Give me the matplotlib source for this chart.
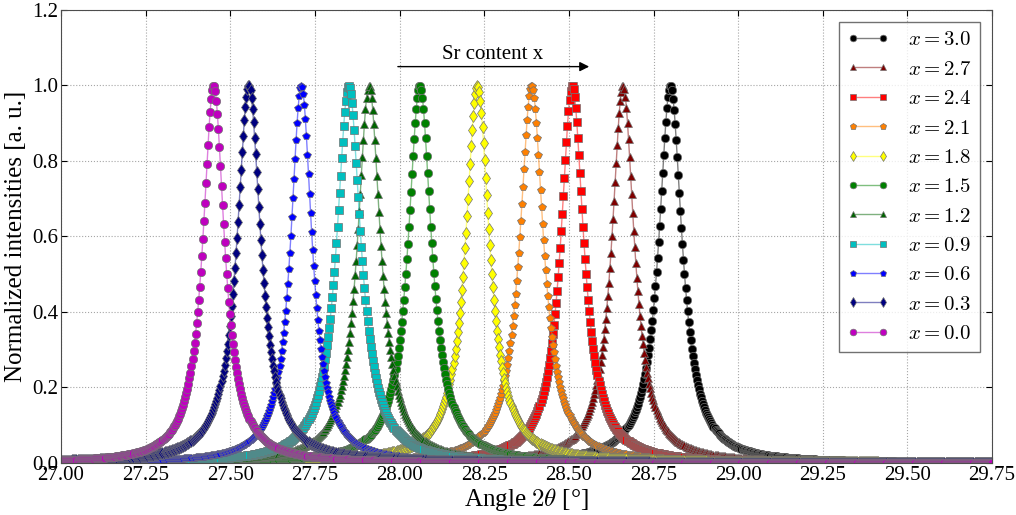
import numpy as np
import matplotlib
matplotlib.use("Agg")
import matplotlib.pyplot as plt
from matplotlib.colors import to_rgba

plt.rcParams['font.family'] = ['Liberation Serif', 'DejaVu Serif']
plt.rcParams['mathtext.fontset'] = 'cm'

# Sr content and fitted peak parameters
sr_content = [3.0, 2.7, 2.4, 2.1, 1.8, 1.5, 1.2, 0.9, 0.6, 0.3, 0.0]
peak_center = [28.80, 28.66, 28.51, 28.39, 28.23, 28.06, 27.91, 27.85, 27.71, 27.555, 27.451]
peak_fwhm = [0.083, 0.080, 0.082, 0.085, 0.085, 0.083, 0.082, 0.086, 0.076, 0.085, 0.077]
colors = ['#000000', '#800000', '#ff0000', '#ff8000', '#ffff00', '#008000',
          '#006400', '#00bfbf', '#0000ff', '#000080', '#bf00bf']
markers = ['o', '^', 's', 'p', 'd', 'o', '^', 's', 'p', 'd', 'o']

angle = np.linspace(27.0, 29.75, 900)

fig = plt.figure(figsize=(10.16, 5.15), dpi=100)
ax = fig.add_axes([0.060, 0.101, 0.9165, 0.8796])

for x, c0, w, col, mk in zip(sr_content, peak_center, peak_fwhm, colors, markers):
    g = w / 2.0
    inten = g**2 / ((angle - c0)**2 + g**2)
    ax.plot(angle, inten, color=to_rgba(col, 0.5), lw=1.0, marker=mk,
            markersize=6, markerfacecolor=col, markeredgecolor='0.45',
            markeredgewidth=0.5, label=r'$x=%.1f$' % x)

ax.annotate('', xy=(28.56, 1.05), xytext=(27.995, 1.05),
            arrowprops=dict(arrowstyle='-|>', color='k', lw=1.0,
                            mutation_scale=14, shrinkA=0, shrinkB=0))
ax.text(28.275, 1.058, 'Sr content x', ha='center', va='bottom', fontsize=15)

ax.set_xlim(27.0, 29.75)
ax.set_ylim(0.0, 1.2)
ax.set_xticks(np.arange(27.0, 29.76, 0.25))
ax.set_yticks(np.arange(0.0, 1.21, 0.2))
ax.xaxis.set_major_formatter(plt.FormatStrFormatter('%.2f'))
ax.yaxis.set_major_formatter(plt.FormatStrFormatter('%.1f'))
ax.tick_params(direction='in', top=True, right=True, labelsize=15, length=4, pad=2)
ax.grid(True, linestyle=':', color='0.65', lw=0.8)
for s in ax.spines.values():
    s.set_color('0.3')

ax.set_xlabel(r'Angle $2\theta$ [°]', fontsize=18, labelpad=1)
ax.set_ylabel('Normalized intensities [a. u.]', fontsize=18, labelpad=4)

leg = ax.legend(loc='upper right', fontsize=15, fancybox=False, handlelength=2.0,
                labelspacing=0.47, borderaxespad=0.6, handletextpad=0.9,
                numpoints=2, markerscale=0.8, borderpad=0.4)
leg.get_frame().set_edgecolor('0.3')

fig.savefig('out.png', dpi=100)
